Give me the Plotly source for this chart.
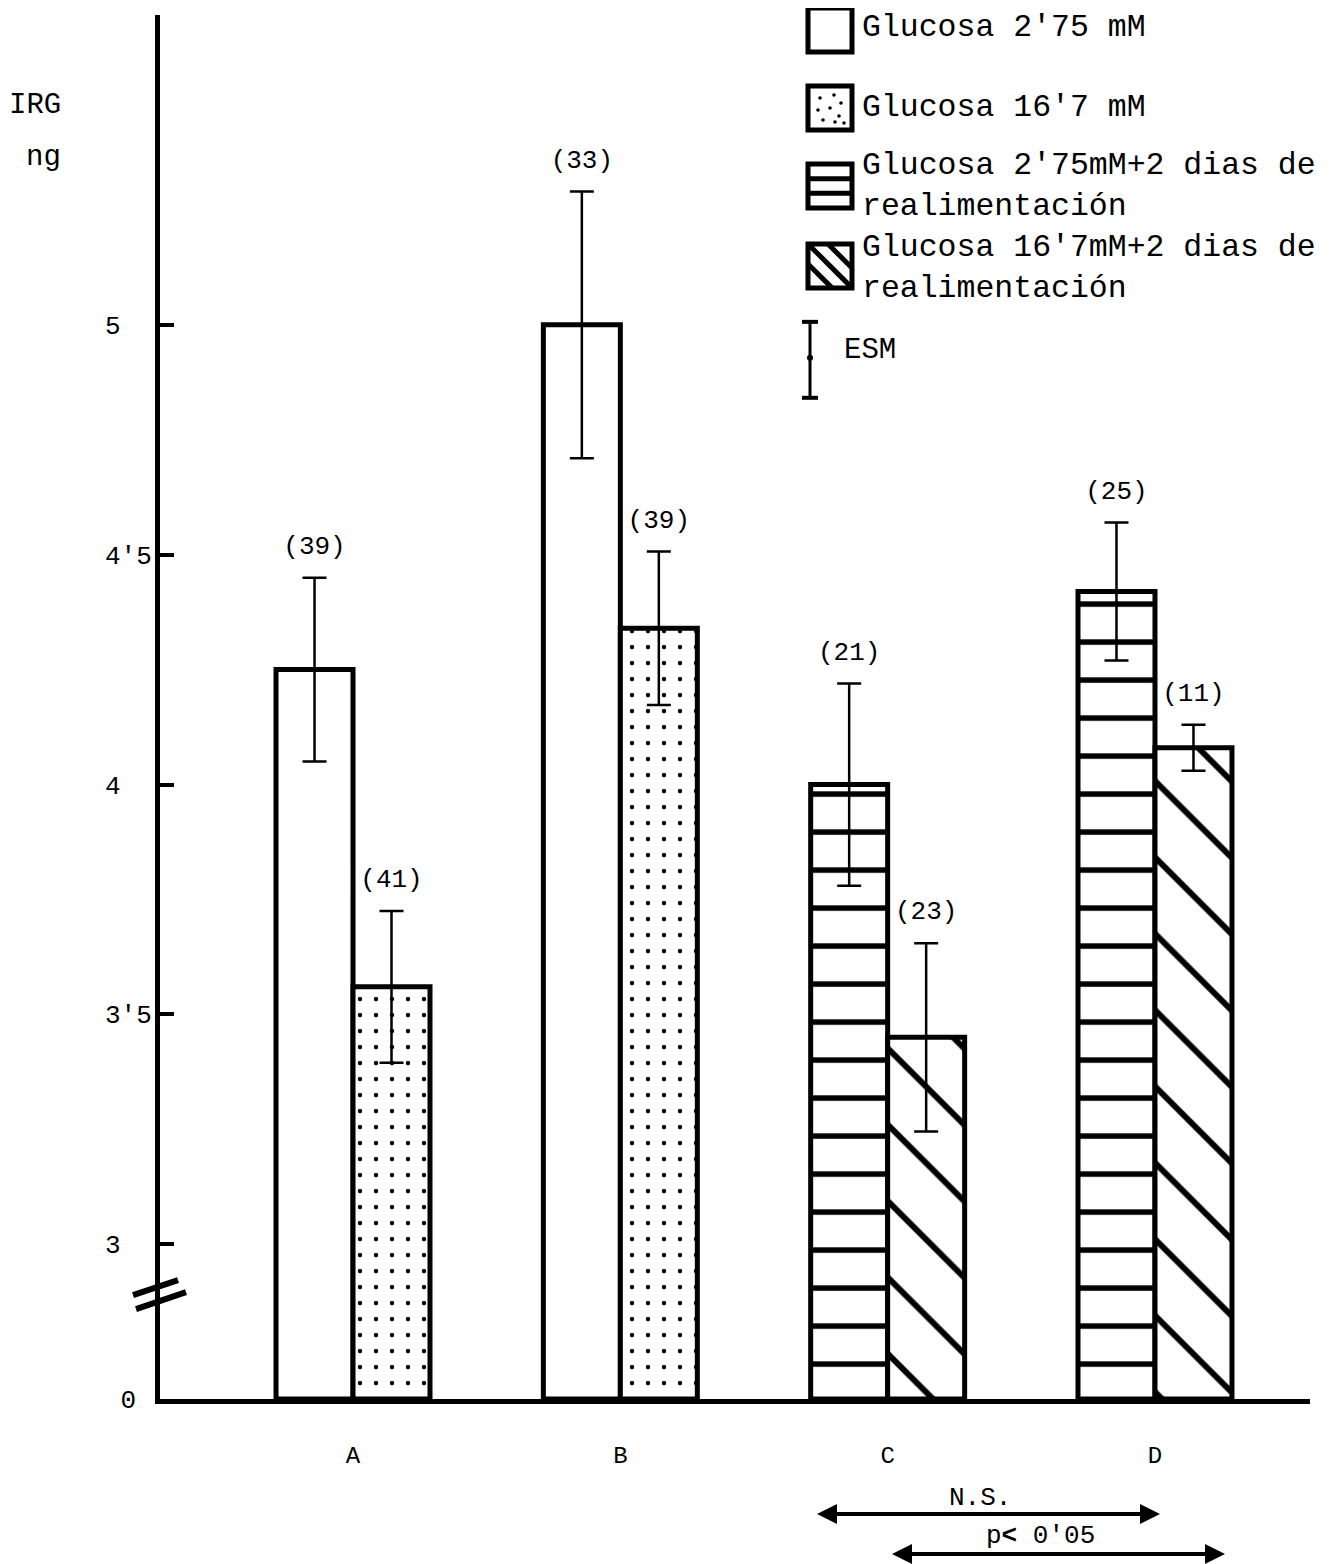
import plotly.graph_objects as go

# ---------------- data ----------------
groups = ["A", "B", "C", "D"]
series_names = [
    "Glucosa 2'75 mM",
    "Glucosa 16'7 mM",
    "Glucosa 2'75mM+2 dias de realimentación",
    "Glucosa 16'7mM+2 dias de realimentación",
]
# series 1 & 2 are measured in groups A, B ; series 3 & 4 in groups C, D
s1_groups = ["A", "B"]
s1_values = [4.25, 5.00]
s1_err = [0.20, 0.29]
s1_n = ["(39)", "(33)"]

s2_groups = ["A", "B"]
s2_values = [3.56, 4.34]
s2_err = [0.165, 0.167]
s2_n = ["(41)", "(39)"]

s3_groups = ["C", "D"]
s3_values = [4.00, 4.42]
s3_err = [0.22, 0.15]
s3_n = ["(21)", "(25)"]

s4_groups = ["C", "D"]
s4_values = [3.45, 4.08]
s4_err = [0.205, 0.05]
s4_n = ["(23)", "(11)"]

ytick_values = [0, 3, 3.5, 4, 4.5, 5]
ytick_labels = ["0\u00a0", "3\u00a0\u00a0", "3'5", "4\u00a0\u00a0", "4'5", "5\u00a0\u00a0"]

# ---------------- layout helpers ----------------
OFF = 8                      # default page body margin
SY = 1564 / 1580.0           # vertical scale of the photographed page
W, H = 1312, 1572
FONT = "Liberation Mono, Courier New, monospace"
BREAK_GAP = 155 / 460.0      # axis space between 0 and 3 (broken axis)


def t(v):
    """broken-axis transform: 0 -> 0, values >= 3 shifted down."""
    return 0.0 if v == 0 else v - 3 + BREAK_GAP


def X(px):
    return (px - OFF) / W


def Y(py):
    return 1 - (py / SY - OFF) / H


BAR_W = 0.288
idx = {g: i for i, g in enumerate(groups)}

fig = go.Figure()

series = [
    (s1_groups, s1_values, s1_err, s1_n, -1, dict(shape="")),
    (s2_groups, s2_values, s2_err, s2_n, +1, dict(shape=".", size=16, solidity=0.06,
                                                 fgcolor="black", bgcolor="white", fgopacity=1)),
    (s3_groups, s3_values, s3_err, s3_n, -1, dict(shape="-", size=38, solidity=0.14,
                                                 fgcolor="black", bgcolor="white", fgopacity=1)),
    (s4_groups, s4_values, s4_err, s4_n, +1, dict(shape="\\", size=54, solidity=0.11,
                                                 fgcolor="black", bgcolor="white", fgopacity=1)),
]

for name, (gs, vals, errs, ns, side, pat) in zip(series_names, series):
    xs = [idx[g] + side * BAR_W / 2 for g in gs]
    ys = [t(v) for v in vals]
    fig.add_trace(go.Bar(
        x=xs, y=ys, width=BAR_W, name=name,
        marker=dict(color="white", line=dict(color="black", width=5), pattern=pat),
        error_y=dict(type="data", array=errs, color="black", thickness=2.5, width=12),
        showlegend=False, hoverinfo="skip",
    ))
    fig.add_trace(go.Scatter(
        x=xs, y=[t(v) + e for v, e in zip(vals, errs)], text=ns,
        mode="markers+text", textposition="top center",
        marker=dict(size=26, color="rgba(0,0,0,0)"),
        textfont=dict(family=FONT, size=26, color="black"),
        showlegend=False, hoverinfo="skip",
    ))

fig.update_layout(
    width=W, height=H,
    margin=dict(l=0, r=0, t=0, b=0, pad=0),
    paper_bgcolor="white", plot_bgcolor="white",
    font=dict(family=FONT, color="black"),
    xaxis=dict(
        domain=[X(160), X(1310)],
        range=[-(353 - 160) / 267.3, 3 + (1310 - 1155) / 267.3],
        tickvals=list(range(len(groups))), ticktext=groups,
        showgrid=False, zeroline=False, showline=True, linecolor="black", linewidth=5,
        ticks="", ticklabelstandoff=30, tickfont=dict(size=24, family=FONT),
    ),
    yaxis=dict(
        domain=[Y(1400), Y(15)],
        range=[0, (1400 - 15) / 460.0],
        tickvals=[t(v) for v in ytick_values], ticktext=ytick_labels,
        showgrid=False, zeroline=False, showline=True, linecolor="black", linewidth=5,
        ticks="inside", ticklen=14, tickwidth=4, tickcolor="black",
        ticklabelstandoff=-2, tickfont=dict(size=26, family=FONT),
    ),
)

shapes = []
annotations = []

# axis break marks
for (x0, y0, x1, y1) in [(133, 1296, 178, 1281), (136, 1310, 186, 1293)]:
    shapes.append(dict(type="line", xref="paper", yref="paper",
                       x0=X(x0), y0=Y(y0), x1=X(x1), y1=Y(y1),
                       line=dict(color="black", width=6)))

# y-axis title
annotations.append(dict(text="IRG", x=X(63), y=Y(105), xref="paper", yref="paper",
                        xanchor="right", yanchor="middle", showarrow=False,
                        font=dict(size=29, family=FONT)))
annotations.append(dict(text="ng", x=X(63), y=Y(158), xref="paper", yref="paper",
                        xanchor="right", yanchor="middle", showarrow=False,
                        font=dict(size=29, family=FONT)))

# ---------------- manual legend ----------------
LFS = 31.5
boxes = [(808, 8), (808, 86), (808, 164), (808, 244)]
box = 44
for (bx, by) in boxes:
    shapes.append(dict(type="rect", xref="paper", yref="paper",
                       x0=X(bx), y0=Y(by), x1=X(bx + box), y1=Y(by + box),
                       line=dict(color="black", width=5), fillcolor="white"))
# dots in box 2
bx, by = boxes[1]
for (dx, dy) in [(12, 12), (26, 9), (33, 17), (10, 24), (22, 22), (31, 30), (15, 34), (27, 36), (36, 37)]:
    shapes.append(dict(type="circle", xref="paper", yref="paper",
                       x0=X(bx + dx - 1.8), x1=X(bx + dx + 1.8),
                       y0=Y(by + dy - 1.8), y1=Y(by + dy + 1.8),
                       line=dict(width=0), fillcolor="black"))
# horizontal lines in box 3
bx, by = boxes[2]
for f in (1 / 3, 2 / 3):
    shapes.append(dict(type="line", xref="paper", yref="paper",
                       x0=X(bx), x1=X(bx + box), y0=Y(by + box * f), y1=Y(by + box * f),
                       line=dict(color="black", width=5)))
# diagonal lines in box 4
bx, by = boxes[3]
for (x0, y0, x1, y1) in [(0, 0, box, box), (0, 20, 24, box), (20, 0, box, 24)]:
    shapes.append(dict(type="line", xref="paper", yref="paper",
                       x0=X(bx + x0), x1=X(bx + x1), y0=Y(by + y0), y1=Y(by + y1),
                       line=dict(color="black", width=5)))

legend_texts = [
    ("Glucosa 2'75 mM", 27),
    ("Glucosa 16'7 mM", 107),
    ("Glucosa 2'75mM+2 dias de<br>realimentación", 186),
    ("Glucosa 16'7mM+2 dias de<br>realimentación", 268),
]
for txt, yy in legend_texts:
    annotations.append(dict(text=txt, x=X(860), y=Y(yy), xref="paper", yref="paper",
                            xanchor="left", yanchor="middle", align="left", showarrow=False,
                            font=dict(size=LFS, family=FONT)))

# ESM symbol
shapes.append(dict(type="line", xref="paper", yref="paper", x0=X(810), x1=X(810),
                   y0=Y(322), y1=Y(398), line=dict(color="black", width=3)))
for yy in (322, 398):
    shapes.append(dict(type="line", xref="paper", yref="paper", x0=X(802), x1=X(818),
                       y0=Y(yy), y1=Y(yy), line=dict(color="black", width=4)))
shapes.append(dict(type="circle", xref="paper", yref="paper",
                   x0=X(807), x1=X(813), y0=Y(355), y1=Y(361),
                   line=dict(width=0), fillcolor="black"))
annotations.append(dict(text="ESM", x=X(842), y=Y(351), xref="paper", yref="paper",
                        xanchor="left", yanchor="middle", showarrow=False,
                        font=dict(size=29, family=FONT)))

# significance arrows
for (x0, x1, yy, label, lx, ly) in [
    (815, 1160, 1515, "N.S.", 980, 1499),
    (890, 1225, 1555, "p<b>&lt;</b> 0'05", 1040, 1537),
]:
    annotations.append(dict(text=" ", x=X(x1), y=Y(yy), xref="paper", yref="paper",
                            ax=-(x1 - x0), ay=0, axref="pixel", ayref="pixel",
                            showarrow=True, arrowhead=2, startarrowhead=2,
                            arrowside="end+start", arrowsize=1.0, startarrowsize=1.0,
                            arrowwidth=4, arrowcolor="black", standoff=0, startstandoff=0,
                            font=dict(size=1)))
    annotations.append(dict(text=label, x=X(lx), y=Y(ly), xref="paper", yref="paper",
                            xanchor="center", yanchor="middle", showarrow=False,
                            font=dict(size=26, family=FONT)))

fig.update_layout(shapes=shapes, annotations=annotations)

fig.write_html("out.html")
